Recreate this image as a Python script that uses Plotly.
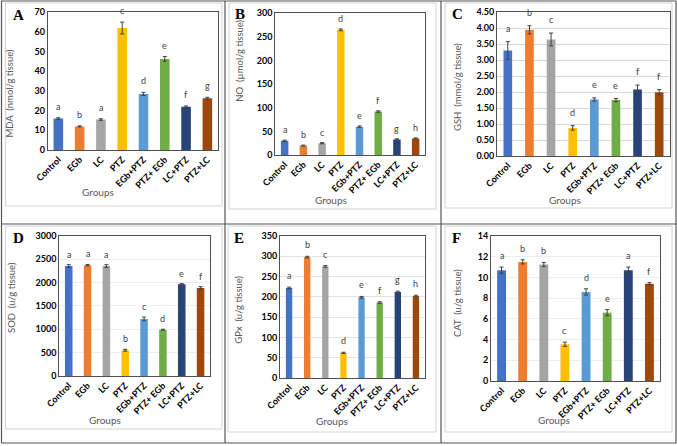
import plotly.graph_objects as go

W, H = 677, 446

groups = ["Control", "EGb", "LC", "PTZ", "EGb+PTZ", "PTZ+ EGb", "LC+PTZ", "PTZ+LC"]
bar_colors = ["#4472C4", "#ED7D31", "#A5A5A5", "#FFC000", "#5B9BD5", "#70AD47", "#264478", "#9E480E"]

# Panel A - MDA
mda = [16.0, 12.0, 15.5, 62.0, 28.5, 46.3, 22.0, 26.3]
mda_err = [0.4, 0.3, 0.4, 3.0, 0.8, 1.2, 0.4, 0.5]
mda_sig = ["a", "b", "a", "c", "d", "e", "f", "g"]

# Panel B - NO
no = [30, 20, 25, 265, 60, 92, 33, 35]
no_err = [1.5, 1.0, 1.2, 2.0, 1.5, 1.5, 1.2, 1.2]
no_sig = ["a", "b", "c", "d", "e", "f", "g", "h"]

# Panel C - GSH
gsh = [3.30, 3.95, 3.65, 0.88, 1.77, 1.75, 2.08, 2.00]
gsh_err = [0.28, 0.13, 0.20, 0.07, 0.05, 0.05, 0.14, 0.08]
gsh_sig = ["a", "b", "c", "d", "e", "e", "f", "f"]

# Panel D - SOD
sod = [2350, 2370, 2350, 550, 1220, 990, 1960, 1880]
sod_err = [30, 15, 30, 20, 40, 10, 15, 30]
sod_sig = ["a", "a", "a", "b", "c", "d", "e", "f"]

# Panel E - GPx
gpx = [222, 298, 275, 62, 199, 186, 212, 202]
gpx_err = [2, 2, 2, 1.5, 2, 2, 2, 2]
gpx_sig = ["a", "b", "c", "d", "e", "f", "g", "h"]

# Panel F - CAT
cat = [10.7, 11.5, 11.25, 3.55, 8.6, 6.6, 10.7, 9.4]
cat_err = [0.3, 0.2, 0.2, 0.2, 0.3, 0.3, 0.3, 0.1]
cat_sig = ["a", "b", "b", "c", "d", "e", "a", "f"]

panels = [
    dict(letter="A", title="MDA  (nmol/g tissue)", y=mda, err=mda_err, sig=mda_sig,
         rng=[0, 70], dtick=10, fmt="", grid=None, bw=0.45,
         dom=(47.7, 218, 12.3, 150), lpos=(18, 15), tpos=(9.5, 94), gpos=(98, 192), ys=4),
    dict(letter="B", title="NO  (µmol/g tissue)", y=no, err=no_err, sig=no_sig,
         rng=[0, 300], dtick=50, fmt="", grid=None, bw=0.4,
         dom=(275.3, 425, 13.3, 155), lpos=(240, 14), tpos=(238.7, 61), gpos=(331, 200), ys=3),
    dict(letter="C", title="GSH  (mmol/g tissue)", y=gsh, err=gsh_err, sig=gsh_sig,
         rng=[0, 4.5], dtick=0.5, fmt=".2f", grid="#d9d9d9", bw=0.4,
         dom=(497, 670, 12.3, 156), lpos=(457, 14), tpos=(457, 87), gpos=(565, 200), ys=6),
    dict(letter="D", title="SOD  (u/g tissue)", y=sod, err=sod_err, sig=sod_sig,
         rng=[0, 3000], dtick=500, fmt="", grid="#eeeeee", bw=0.4,
         dom=(59.3, 210, 235.7, 376), lpos=(18, 238), tpos=(11, 298), gpos=(105, 420), ys=3),
    dict(letter="E", title="GPx  (u/g tissue)", y=gpx, err=gpx_err, sig=gpx_sig,
         rng=[0, 350], dtick=50, fmt="", grid="#e4e4e4", bw=0.35,
         dom=(280, 425, 236, 378), lpos=(239, 238), tpos=(237.7, 310), gpos=(332, 421), ys=4),
    dict(letter="F", title="CAT  (u/g tissue)", y=cat, err=cat_err, sig=cat_sig,
         rng=[0, 14], dtick=2, fmt="", grid="#eeeeee", bw=0.42,
         dom=(491, 660, 236, 381), lpos=(456, 238), tpos=(457, 303), gpos=(554, 420), ys=4),
]


def px(x):
    return x / W


def py(y):
    return 1 - y / H


fig = go.Figure()
annotations = []
shapes = []
layout_axes = {}

for i, p in enumerate(panels):
    n = "" if i == 0 else str(i + 1)
    xa, ya = "x" + n, "y" + n
    fig.add_trace(go.Bar(
        x=groups, y=p["y"], xaxis=xa, yaxis=ya,
        marker=dict(color=bar_colors, line=dict(width=0)),
        width=p["bw"],
        error_y=dict(type="data", array=p["err"], color="#404040", thickness=1, width=2),
        showlegend=False, hoverinfo="x+y",
    ))
    x0, x1, y0, y1 = p["dom"]
    layout_axes["xaxis" + n] = dict(
        domain=[px(x0), px(x1)], anchor=ya, type="category", range=[-0.5, 7.5],
        showline=True, mirror=True, linecolor="#505050", linewidth=1, automargin=False,
        ticks="", tickangle=-45, showgrid=False, zeroline=False,
        tickfont=dict(family="Lato", size=9, color="#000000", weight="bold"),
    )
    layout_axes["yaxis" + n] = dict(
        domain=[py(y1), py(y0)], anchor=xa, range=p["rng"], dtick=p["dtick"],
        tickformat=p["fmt"], showline=True, mirror=True, linecolor="#505050", linewidth=1,
        ticks="", showgrid=p["grid"] is not None, gridcolor=p["grid"] or "#ffffff", gridwidth=1,
        zeroline=False, automargin=False,
        tickfont=dict(family="Lato", size=9, color="#000000", weight="bold"),
    )
    for g, v, e, s in zip(groups, p["y"], p["err"], p["sig"]):
        annotations.append(dict(
            x=g, y=v + e, xref=xa, yref=ya, text=s, showarrow=False,
            yanchor="bottom", yshift=p["ys"],
            font=dict(family="Lato", size=9, color="#404040"),
        ))
    lx, ly = p["lpos"]
    annotations.append(dict(
        x=px(lx), y=py(ly), xref="paper", yref="paper", text="<b>" + p["letter"] + "</b>",
        showarrow=False, xanchor="center", yanchor="middle",
        font=dict(family="Liberation Serif", size=15, color="#000000"),
    ))
    tx, ty = p["tpos"]
    annotations.append(dict(
        x=px(tx), y=py(ty), xref="paper", yref="paper", text=p["title"], textangle=-90,
        showarrow=False, xanchor="center", yanchor="middle",
        font=dict(family="Lato", size=9.5, color="#595959"),
    ))
    gx, gy = p["gpos"]
    annotations.append(dict(
        x=px(gx), y=py(gy), xref="paper", yref="paper", text="Groups",
        showarrow=False, xanchor="center", yanchor="middle",
        font=dict(family="Lato", size=10, color="#595959"),
    ))

# chart-area boxes (light gray)
chart_boxes = [
    (5.5, 222, 3, 206), (229, 436, 3, 209), (445, 672, 3, 208),
    (5.5, 222, 226, 429), (228, 436, 226, 432), (445, 672, 226, 432),
]
for bx0, bx1, by0, by1 in chart_boxes:
    shapes.append(dict(type="rect", xref="paper", yref="paper",
                       x0=px(bx0), x1=px(bx1), y0=py(by1), y1=py(by0),
                       line=dict(color="#d4d4d4", width=1), layer="below"))

# outer frame and cell dividers
shapes.append(dict(type="rect", xref="paper", yref="paper",
                   x0=px(1.5), x1=px(676), y0=py(443), y1=py(1),
                   line=dict(color="#555555", width=1.2)))
for vx in (225, 441):
    shapes.append(dict(type="line", xref="paper", yref="paper",
                       x0=px(vx), x1=px(vx), y0=py(443), y1=py(1),
                       line=dict(color="#555555", width=1.2)))
shapes.append(dict(type="line", xref="paper", yref="paper",
                   x0=px(1.5), x1=px(676), y0=py(224), y1=py(224),
                   line=dict(color="#555555", width=1.2)))

fig.update_layout(
    width=W, height=H, margin=dict(l=0, r=0, t=0, b=0),
    paper_bgcolor="#ffffff", plot_bgcolor="#ffffff",
    annotations=annotations, shapes=shapes, bargap=0.5,
    **layout_axes,
)

fig.write_html("out.html", config={"displayModeBar": False},
               post_script="document.body.style.margin='0';document.body.style.overflow='hidden';")
